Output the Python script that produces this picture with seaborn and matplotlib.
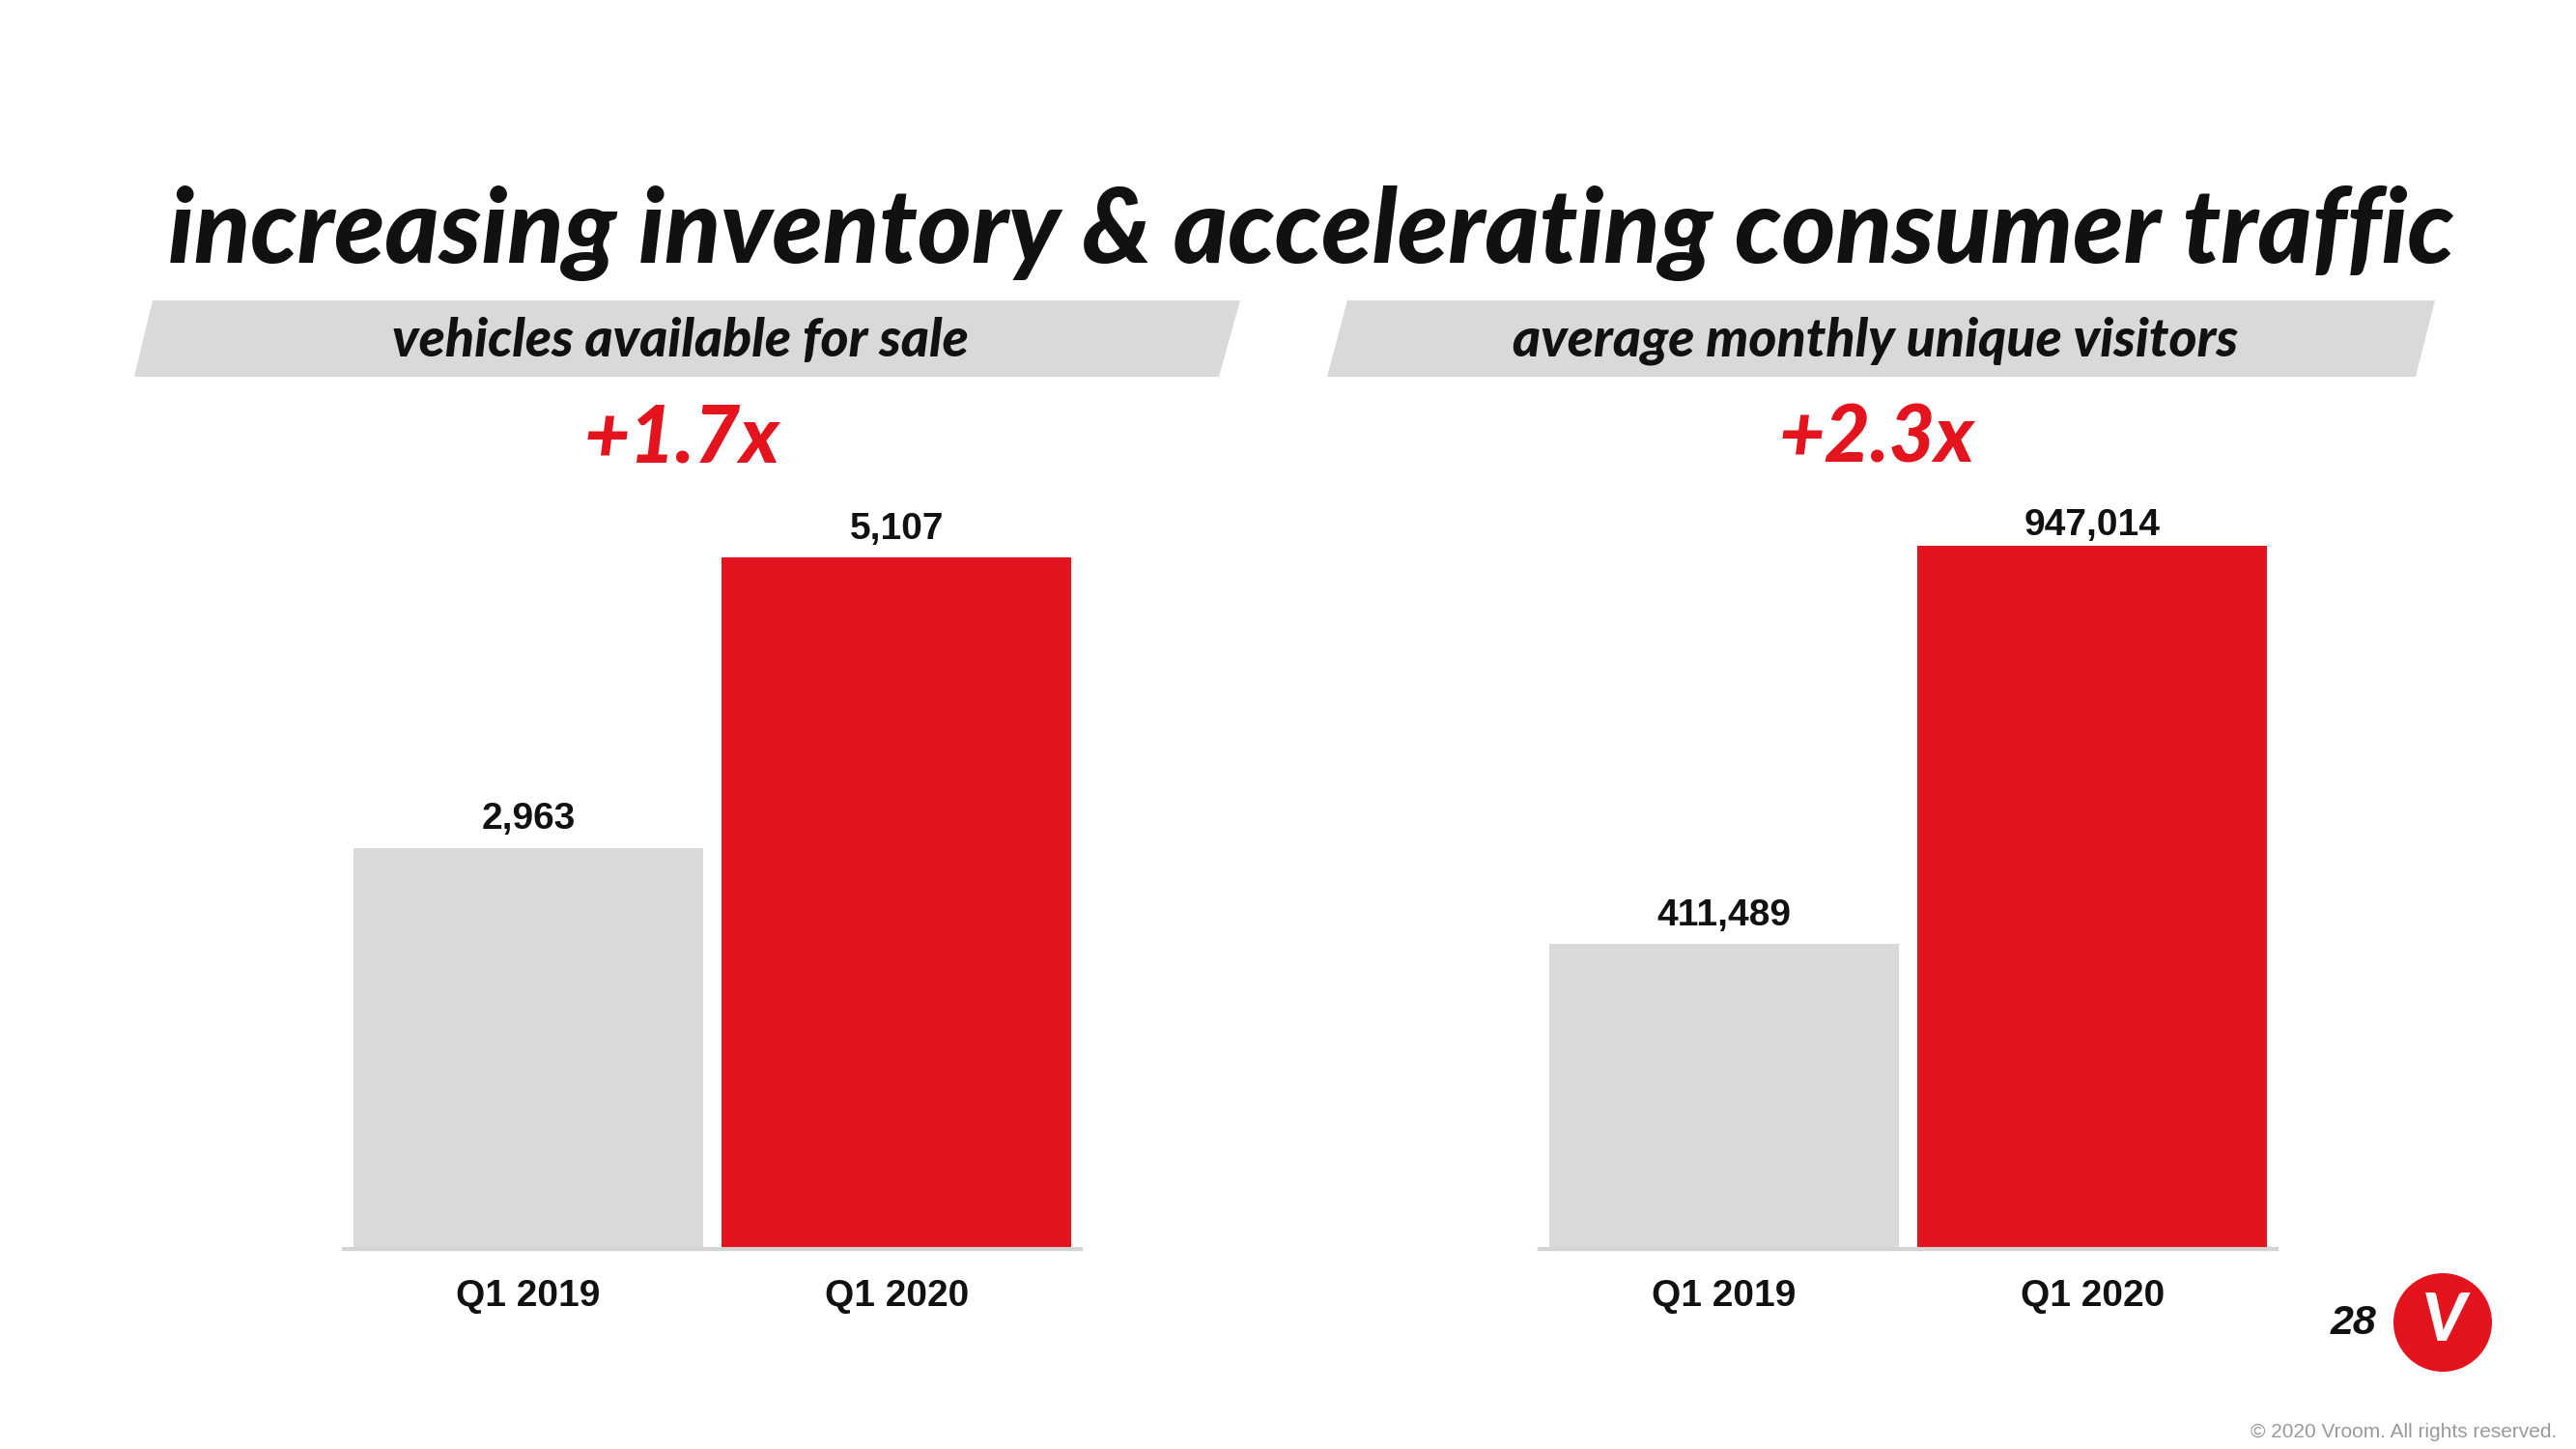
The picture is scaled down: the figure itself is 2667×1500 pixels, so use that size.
import matplotlib
matplotlib.use("Agg")
import matplotlib.pyplot as plt
import seaborn as sns
import pandas as pd
from matplotlib.patches import Polygon, Ellipse

# dados
categories = ["Q1 2019", "Q1 2020"]
vehicles = [2963, 5107]
visitors = [411489, 947014]
panel_titles = ["vehicles available for sale", "average monthly unique visitors"]
growth_labels = ["+1.7x", "+2.3x"]
title = "increasing inventory & accelerating consumer traffic"

GREY = "#dcdad9"
RED = "#e3141e"
BANNER = "#d9d9d9"

W, H = 2667, 1500


def fx(x):
    return x / W


def fy(y):
    return 1 - y / H


sns.set_theme(style="white")
plt.rcParams["font.family"] = ["Liberation Sans", "DejaVu Sans"]

fig = plt.figure(figsize=(W / 100, H / 100), dpi=100)
fig.patch.set_facecolor("white")

# eixos (em pixels da figura)
base_y = 1293
top_y = 500
axes_px = base_y - top_y
panels = [
    {"left": 356, "values": vehicles, "bar_px": 716, "pads": [8, 8]},
    {"left": 1594, "values": visitors, "bar_px": 728, "pads": [8, 2]},
]

for i, p in enumerate(panels):
    ax = fig.add_axes([fx(p["left"]), fy(base_y), 763 / W, axes_px / H])
    df = pd.DataFrame({"quarter": categories, "value": p["values"]})
    sns.barplot(data=df, x="quarter", y="value", hue="quarter",
                palette=[GREY, RED], legend=False, width=0.95,
                saturation=1, ax=ax, edgecolor="none")
    ax.set_xlim(-0.5, 1.5)
    ax.set_ylim(0, max(p["values"]) * axes_px / p["bar_px"])
    for c, pad in zip(ax.containers, p["pads"]):
        ax.bar_label(c, labels=[f"{v:,.0f}" for v in c.datavalues],
                     padding=pad, fontsize=28, fontweight="bold", color="#111111")
    ax.set_xlabel("")
    ax.set_ylabel("")
    ax.set_yticks([])
    ax.tick_params(axis="x", length=0, pad=22, labelsize=28)
    for lbl in ax.get_xticklabels():
        lbl.set_fontweight("bold")
        lbl.set_color("#111111")
    for s in ["top", "right", "left"]:
        ax.spines[s].set_visible(False)
    ax.spines["bottom"].set_color("#d4d4d4")
    ax.spines["bottom"].set_linewidth(3)
    ax.patch.set_alpha(0)

# faixas cinzas inclinadas
banners = [
    [(158, 311), (1284, 311), (1262, 390), (139, 390)],
    [(1395, 311), (2521, 311), (2501, 390), (1374, 390)],
]
for pts, txt, gtxt in zip(banners, panel_titles, growth_labels):
    poly = Polygon([(fx(x), fy(y)) for x, y in pts], closed=True,
                   facecolor=BANNER, edgecolor="none", transform=fig.transFigure)
    fig.add_artist(poly)
    cx = (pts[0][0] + pts[2][0] + pts[1][0] + pts[3][0]) / 4
    fig.text(fx(cx - 6), fy(353), txt, ha="center", va="center",
             fontsize=40, family=["Lato", "DejaVu Sans"], weight="black",
             style="italic", color="#111111")
    fig.text(fx(cx - 5), fy(455), gtxt, ha="center", va="center",
             fontsize=59, family=["Lato", "DejaVu Sans"], weight="black",
             style="italic", color=RED)

# título
fig.text(fx(1357), fy(272), title, ha="center", va="baseline",
         fontsize=77, family=["Lato", "DejaVu Sans"], weight="black",
         style="italic", color="#111111")

# número da página e logo
fig.text(fx(2460), fy(1370), "28", ha="right", va="center", fontsize=31,
         family=["Liberation Sans", "DejaVu Sans"], weight="bold",
         style="italic", color="#111111")
fig.add_artist(Ellipse((fx(2529), fy(1369)), 102 / W, 102 / H, facecolor=RED,
                       edgecolor="none", transform=fig.transFigure))
fig.text(fx(2531), fy(1369), "V", ha="center", va="center", fontsize=50,
         family=["Lato", "DejaVu Sans"], weight="black", style="italic",
         color="white")

fig.text(fx(2647), fy(1482), "\u00a9 2020 Vroom. All rights reserved.",
         ha="right", va="center", fontsize=15, color="#9a9a9a")

fig.savefig("out.png", dpi=100)
